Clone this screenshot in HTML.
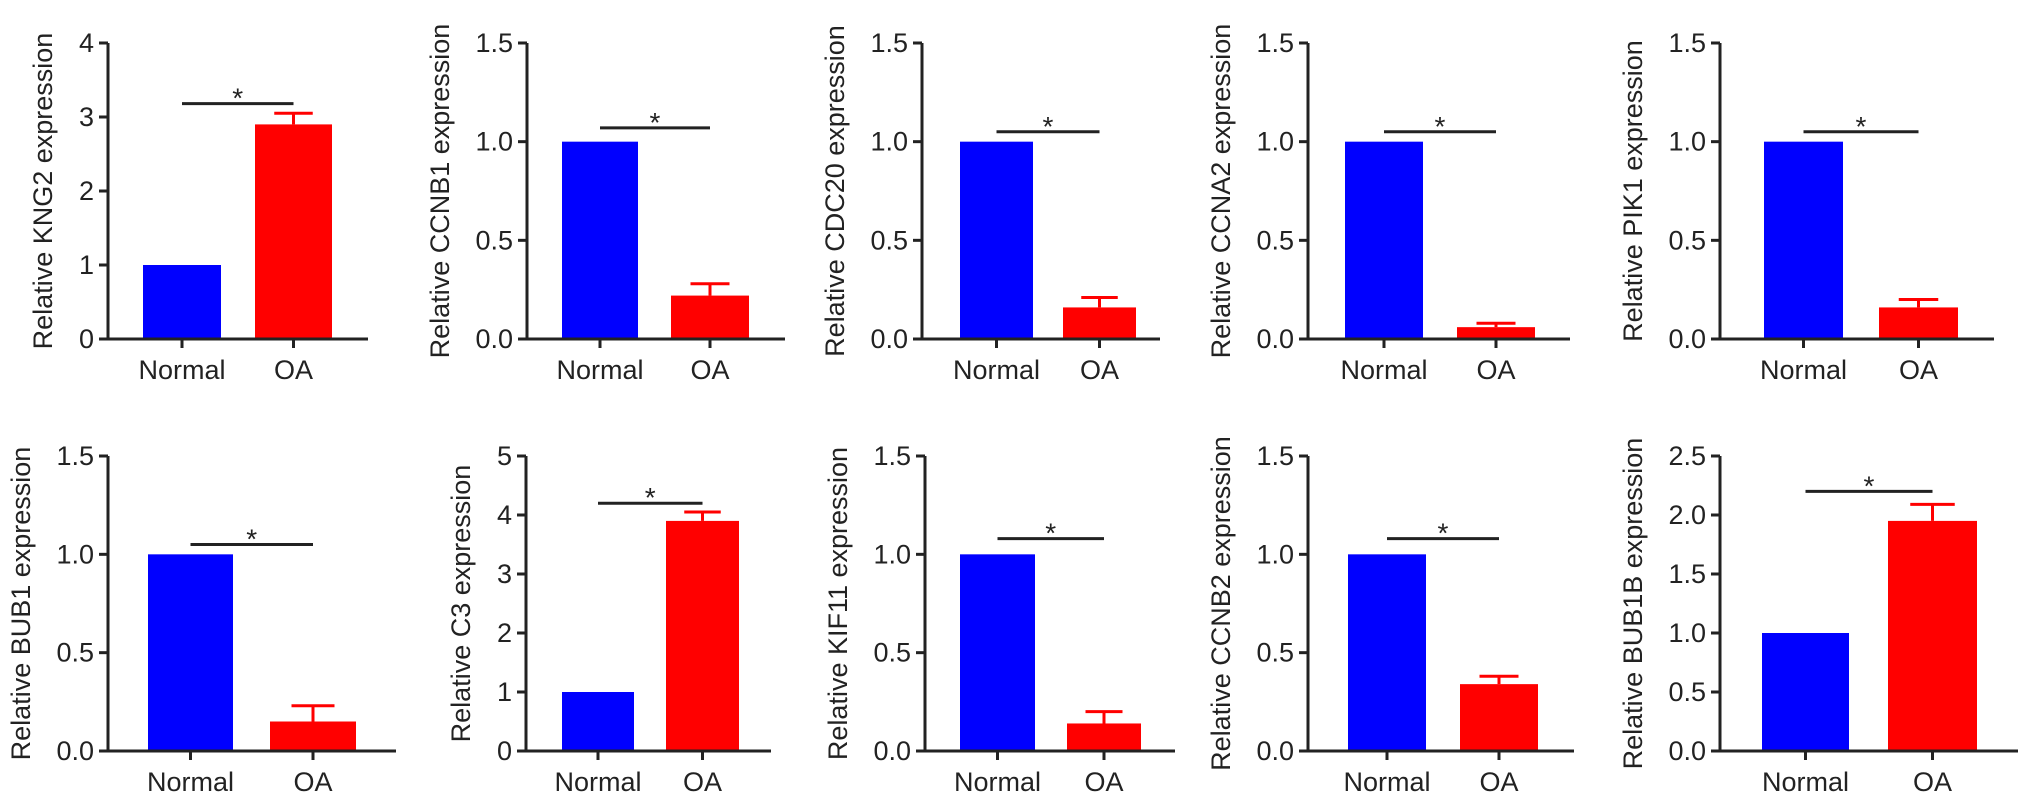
<!DOCTYPE html>
<html><head><meta charset="utf-8"><style>
html,body{margin:0;padding:0;background:#fff;}
svg{display:block;font-family:"Liberation Sans",Arial,sans-serif;}
</style></head><body>
<svg id="fig" width="2032" height="804" viewBox="0 0 2032 804" xmlns="http://www.w3.org/2000/svg"></svg>
<script>
// ---- data ----
const genes = ["KNG2","CCNB1","CDC20","CCNA2","PIK1","BUB1","C3","KIF11","CCNB2","BUB1B"];
const categories = ["Normal","OA"];
const normalValues = [1,1,1,1,1,1,1,1,1,1];
const oaValues = [2.9,0.22,0.16,0.06,0.16,0.15,3.9,0.14,0.34,1.95];
const oaErrors = [0.15,0.06,0.05,0.02,0.04,0.08,0.15,0.06,0.04,0.14];
const sigLevels = [3.18,1.07,1.05,1.05,1.05,1.05,4.2,1.08,1.08,2.2];
const yMaxes = [4,1.5,1.5,1.5,1.5,1.5,5,1.5,1.5,2.5];
const ySteps = [1,0.5,0.5,0.5,0.5,0.5,1,0.5,0.5,0.5];
// ---- layout (pixels) ----
const panelBox = [
 [108,143,221,255,332,368,43,339],
 [527,562,638,671,749,785,43,339],
 [922,960,1033,1063,1136,1160,43,339],
 [1308,1345,1423,1457,1535,1570,43,339],
 [1720,1764,1843,1879,1958,1994,43,339],
 [108,148,233,270,356,396,456,751],
 [526,562,634,666,739,771,456,751],
 [925,960,1035,1067,1141,1175,456,751],
 [1308,1348,1426,1460,1538,1574,456,751],
 [1720,1762,1849,1888,1977,2018,456,751]
];
const NS="http://www.w3.org/2000/svg";
const svg=document.getElementById('fig');
function mk(tag,attrs,parent){const e=document.createElementNS(NS,tag);for(const k in attrs)e.setAttribute(k,attrs[k]);parent.appendChild(e);return e;}
const INK="#222";
genes.forEach((g,i)=>{
  const [ax,bL,bR,rL,rR,endX,yTop,yBase]=panelBox[i];
  const yMax=yMaxes[i], step=ySteps[i];
  const y=v=>yBase-(v/yMax)*(yBase-yTop);
  const grp=mk('g',{},svg);
  
  
  // bars
  const b1=mk('rect',{x:bL,y:y(normalValues[i]),width:bR-bL,height:yBase-y(normalValues[i]),fill:'#0000ff'},grp);
  
  
  const b2=mk('rect',{x:rL,y:y(oaValues[i]),width:rR-rL,height:yBase-y(oaValues[i]),fill:'#ff0000'},grp);
  
  
  // error bar
  const rc=(rL+rR)/2, cw=(rR-rL)/4;
  const eb=mk('path',{d:`M${rc},${y(oaValues[i])}V${y(oaValues[i]+oaErrors[i])}M${rc-cw},${y(oaValues[i]+oaErrors[i])}H${rc+cw}`,stroke:'#ff0000','stroke-width':3,fill:'none'},grp);
  
  
  // axes
  const yax=mk('line',{x1:ax,y1:yTop,x2:ax,y2:yBase+1.5,stroke:INK,'stroke-width':3},grp);
  
  
  const xax=mk('line',{x1:ax-1.5,y1:yBase,x2:endX,y2:yBase,stroke:INK,'stroke-width':3},grp);
  
  
  // y ticks
  const n=Math.round(yMax/step);
  for(let k=0;k<=n;k++){
    const v=k*step, yy=y(v);
    mk('line',{x1:ax-9,y1:yy,x2:ax,y2:yy,stroke:INK,'stroke-width':3},grp);
    const t=mk('text',{x:ax-14,y:yy+9,'text-anchor':'end','font-size':27,fill:INK},grp);
    t.textContent= step<1 ? v.toFixed(1) : String(v);
    
    
  }
  // x ticks + labels
  [[(bL+bR)/2,categories[0]],[rc,categories[1]]].forEach(([cx,lab])=>{
    mk('line',{x1:cx,y1:yBase,x2:cx,y2:yBase+9,stroke:INK,'stroke-width':3},grp);
    const t=mk('text',{x:cx,y:yBase+40,'text-anchor':'middle','font-size':27,fill:INK},grp);
    t.textContent=lab;
    
    
  });
  // y title
  const tx = ax - (step<1 ? 87 : 65), ty=(yTop+yBase)/2;
  const tt=mk('text',{x:tx,y:ty,'text-anchor':'middle','font-size':27,fill:INK,transform:`rotate(-90 ${tx} ${ty})`,'dominant-baseline':'central'},grp);
  tt.textContent='Relative '+g+' expression';
  
  
  // significance
  const sy=y(sigLevels[i]), c1=(bL+bR)/2;
  const sl=mk('line',{x1:c1,y1:sy,x2:rc,y2:sy,stroke:INK,'stroke-width':3},grp);
  
  
  const st=mk('text',{x:(c1+rc)/2,y:sy+4,'text-anchor':'middle','font-size':28,fill:INK},grp);
  st.textContent='*';
  
  
});
</script>
</body></html>
